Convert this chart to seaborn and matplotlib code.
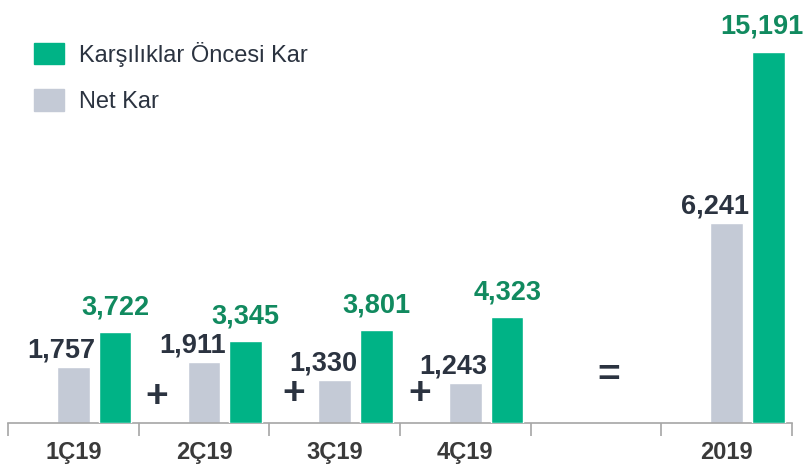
import pandas as pd
import matplotlib.pyplot as plt
import seaborn as sns
from matplotlib.patches import Patch

# Data
periods = ['1Ç19', '2Ç19', '3Ç19', '4Ç19', '2019']
net_kar = [1757, 1911, 1330, 1243, 6241]
oncesi_kar = [3722, 3345, 3801, 4323, 15191]
slots = [0, 1, 2, 3, 5]  # slot 4 is the empty "=" column

GREEN = '#00b386'
GRAY = '#c4cad6'
DARK = '#2b3340'
GREEN_TXT = '#118a5f'

sns.set_style('white')
plt.rcParams['font.family'] = ['Liberation Sans Narrow', 'Liberation Sans', 'DejaVu Sans']

df = pd.DataFrame({'slot': slots, 'period': periods, 'net': net_kar, 'pre': oncesi_kar})
df['slot_pre'] = df['slot'] + 0.32

fig = plt.figure(figsize=(8.04, 4.70), dpi=100)
ax = fig.add_axes([8 / 804, 47 / 470, 784 / 804, 423 / 470])
ax2 = ax.twinx()

sns.barplot(data=df, x='slot', y='net', native_scale=True, color=GRAY,
            width=0.25, saturation=1, ax=ax)
sns.barplot(data=df, x='slot_pre', y='pre', native_scale=True, color=GREEN,
            width=0.25, saturation=1, ax=ax2)

for a in (ax, ax2):
    a.set_xlim(-0.5, 5.5)
    a.set_ylabel('')
    a.set_xlabel('')
    a.set_yticks([])
    for s in ['top', 'right', 'left']:
        a.spines[s].set_visible(False)
ax.set_ylim(0, 13220)
ax2.set_ylim(0, 17320)
ax2.spines['bottom'].set_visible(False)
ax2.tick_params(axis='x', which='both', bottom=False, labelbottom=False)

ax.spines['bottom'].set_color('#a6a6a6')
ax.spines['bottom'].set_linewidth(1.2)
ax.set_xticks(range(6))
ax.set_xticklabels(['1Ç19', '2Ç19', '3Ç19', '4Ç19', '', '2019'],
                   fontsize=17, fontweight='bold', color='#3a3a3a')
ax.set_xticks([i - 0.5 for i in range(7)], minor=True)
ax.tick_params(axis='x', which='major', bottom=True, length=0, pad=13)
ax.tick_params(axis='x', which='minor', bottom=True, length=9, width=1.2,
               color='#a6a6a6', direction='out')

# value labels
for s, v in zip(slots, net_kar):
    ax.annotate(f'{v:,}', (s - 0.09, v), xytext=(0, 7), textcoords='offset points',
                ha='center', va='baseline', fontsize=19.5, fontweight='bold', color=DARK,
                annotation_clip=False)
for s, v in zip(slots, oncesi_kar):
    dx = -0.05 if s == 5 else 0
    ax2.annotate(f'{v:,}', (s + 0.32 + dx, v), xytext=(0, 13), textcoords='offset points',
                 ha='center', va='baseline', fontsize=19.5, fontweight='bold', color=GREEN_TXT,
                 annotation_clip=False)

# plus / equal signs
tr = ax.get_xaxis_transform()
for x, y in [(0.64, 0.061), (1.69, 0.069), (2.65, 0.069)]:
    ax.text(x, y, '+', transform=tr, ha='center', va='center', fontsize=28,
            fontweight='bold', color=DARK)
ax.text(4.1, 0.111, '=', transform=tr, ha='center', va='center', fontsize=28,
        fontweight='bold', color=DARK)

handles = [Patch(color=GREEN, label='Karşılıklar Öncesi Kar'),
           Patch(color=GRAY, label='Net Kar')]
fig.legend(handles=handles, loc='upper left', bbox_to_anchor=(34 / 804, 428 / 470),
           frameon=False, borderpad=0, borderaxespad=0,
           fontsize=17, handlelength=1.25, handleheight=1.0, labelspacing=0.95,
           handletextpad=0.65, labelcolor=DARK)

fig.savefig('out.png', dpi=100)
